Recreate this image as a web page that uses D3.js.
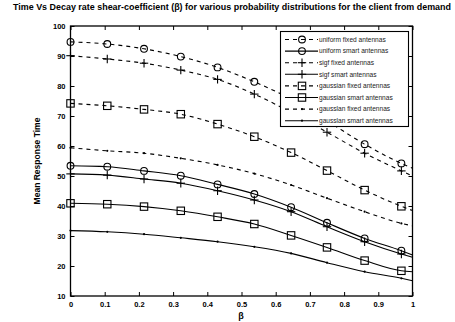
<!DOCTYPE html>
<html><head><meta charset="utf-8">
<script src="https://cdn.jsdelivr.net/npm/d3@7"></script>
<style>body{margin:0;background:#fff}svg{display:block}text{font-family:Arial,"Liberation Sans",sans-serif}</style>
</head><body>
<script>
const title = "Time Vs Decay rate shear-coefficient (β) for various probability distributions for the client from demand";
const xLabel = "β";
const yLabel = "Mean Response Time";
const xValues = [0, 0.1075, 0.215, 0.3225, 0.43, 0.5375, 0.645, 0.75, 0.86, 0.9675, 1];
const xTicks = [0, 0.1, 0.2, 0.3, 0.4, 0.5, 0.6, 0.7, 0.8, 0.9, 1];
const yTicks = [10, 20, 30, 40, 50, 60, 70, 80, 90, 100];
const seriesNames = ["uniform fixed antennas","uniform smart antennas","sigf fixed antennas","sigf smart antennas","gaussian fixed antennas","gaussian smart antennas","gausslan fixed antennas","gausslan smart antennas"];
const uniformFixed  = [94.7, 94.0, 92.4, 89.8, 86.2, 81.4, 75.6, 68.4, 60.6, 54.2, 52.6];
const uniformSmart  = [53.4, 53.1, 51.7, 50.1, 47.2, 44.0, 39.6, 34.4, 29.2, 25.1, 23.7];
const sigfFixed     = [90.1, 89.0, 87.6, 85.3, 82.2, 77.3, 71.2, 64.6, 57.6, 51.7, 50.0];
const sigfSmart     = [50.7, 50.3, 49.0, 47.6, 45.1, 42.0, 38.1, 33.1, 28.1, 24.0, 22.9];
const gaussFixed    = [74.2, 73.4, 72.2, 70.6, 67.3, 63.1, 57.8, 51.8, 45.3, 39.9, 38.5];
const gaussSmart    = [40.9, 40.6, 39.8, 38.4, 36.4, 34.0, 30.2, 26.2, 21.8, 18.4, 18.1];
const gauss2Fixed   = [59.4, 58.4, 57.6, 55.9, 53.7, 50.8, 47.0, 42.6, 38.1, 34.2, 33.4];
const gauss2Smart   = [31.8, 31.4, 30.6, 29.4, 28.1, 26.4, 24.2, 21.1, 18.1, 15.9, 15.1];
const seriesValues = [uniformFixed, uniformSmart, sigfFixed, sigfSmart, gaussFixed, gaussSmart, gauss2Fixed, gauss2Smart];
const seriesDash = [true,false,true,false,true,false,true,false];
const seriesMarker = ["circle","circle","plus","plus","square","square","point","point"];

const W = 455, H = 322;
const m = {l:70.5, t:26, r:412.5, b:296};
const svg = d3.select("body").append("svg").attr("width",W).attr("height",H);
const x = d3.scaleLinear().domain([0,1]).range([m.l, m.r]);
const y = d3.scaleLinear().domain([10,100]).range([m.b, m.t]);

const fmt = d => d === 0 ? "0" : (d === 1 ? "1" : d3.format(".1f")(d));
const gB = svg.append("g").attr("transform",`translate(0,${m.b})`).call(d3.axisBottom(x).tickValues(xTicks).tickFormat(fmt).tickSizeInner(-4).tickSizeOuter(0).tickPadding(6));
const gT = svg.append("g").attr("transform",`translate(0,${m.t})`).call(d3.axisTop(x).tickValues(xTicks).tickFormat("").tickSizeInner(-4).tickSizeOuter(0));
const gL = svg.append("g").attr("transform",`translate(${m.l},0)`).call(d3.axisLeft(y).tickValues(yTicks).tickSizeInner(-4).tickSizeOuter(0).tickPadding(5));
const gR = svg.append("g").attr("transform",`translate(${m.r},0)`).call(d3.axisRight(y).tickValues(yTicks).tickFormat("").tickSizeInner(-4).tickSizeOuter(0));
[gB,gT,gL,gR].forEach(g=>{
  g.select(".domain").remove();
  g.selectAll("line").attr("stroke","#000").attr("stroke-width",1);
  g.selectAll("text").attr("font-size",7.5).attr("font-weight","bold").attr("fill","#000");
});
svg.append("rect").attr("x",m.l).attr("y",m.t).attr("width",m.r-m.l).attr("height",m.b-m.t)
  .attr("fill","none").attr("stroke","#000").attr("stroke-width",1.3);

const line = d3.line().x((d,i)=>x(xValues[i])).y(d=>y(d)).curve(d3.curveMonotoneX);
function drawMarker(g, type, cx, cy){
  if(type==="circle") g.append("circle").attr("cx",cx).attr("cy",cy).attr("r",3.4).attr("fill","none").attr("stroke","#000").attr("stroke-width",1.1);
  else if(type==="square") g.append("rect").attr("x",cx-3.7).attr("y",cy-3.7).attr("width",7.4).attr("height",7.4).attr("fill","none").attr("stroke","#000").attr("stroke-width",1.1);
  else if(type==="plus"){
    g.append("line").attr("x1",cx-4.2).attr("x2",cx+4.2).attr("y1",cy).attr("y2",cy).attr("stroke","#000").attr("stroke-width",1.1);
    g.append("line").attr("x1",cx).attr("x2",cx).attr("y1",cy-4.2).attr("y2",cy+4.2).attr("stroke","#000").attr("stroke-width",1.1);
  } else if(type==="point") g.append("circle").attr("cx",cx).attr("cy",cy).attr("r",1.1).attr("fill","#000");
}
const plot = svg.append("g");
seriesValues.forEach((vals,si)=>{
  plot.append("path").attr("d",line(vals)).attr("fill","none").attr("stroke","#000").attr("stroke-width",1.1)
    .attr("stroke-dasharray",seriesDash[si]?"4,4":null);
  vals.forEach((v,i)=>{ if(i < vals.length-1) drawMarker(plot, seriesMarker[si], x(xValues[i]), y(v)); });
});

const lg = svg.append("g");
lg.append("rect").attr("x",280.5).attr("y",31.5).attr("width",128).attr("height",95).attr("fill","#fff").attr("stroke","#000").attr("stroke-width",1.1);
seriesNames.forEach((n,i)=>{
  const ly = 39.5 + i*11.6;
  lg.append("line").attr("x1",285).attr("x2",318).attr("y1",ly).attr("y2",ly).attr("stroke","#000").attr("stroke-width",1.1)
    .attr("stroke-dasharray",seriesDash[i]?"4,4":null);
  drawMarker(lg, seriesMarker[i], 302, ly);
  lg.append("text").attr("x",319).attr("y",ly+2.3).attr("font-size",6.6).attr("fill","#222").text(n);
});

svg.append("text").attr("x",13).attr("y",10).attr("font-size",8.9).attr("font-weight","bold")
  .attr("textLength",438).attr("lengthAdjust","spacingAndGlyphs").text(title);
svg.append("text").attr("x",241).attr("y",319).attr("text-anchor","middle").attr("font-size",9).attr("font-weight","bold").text(xLabel);
svg.append("text").attr("transform","translate(40,161) rotate(-90)").attr("text-anchor","middle").attr("font-size",8.5).attr("font-weight","bold").text(yLabel);
</script>
</body></html>
